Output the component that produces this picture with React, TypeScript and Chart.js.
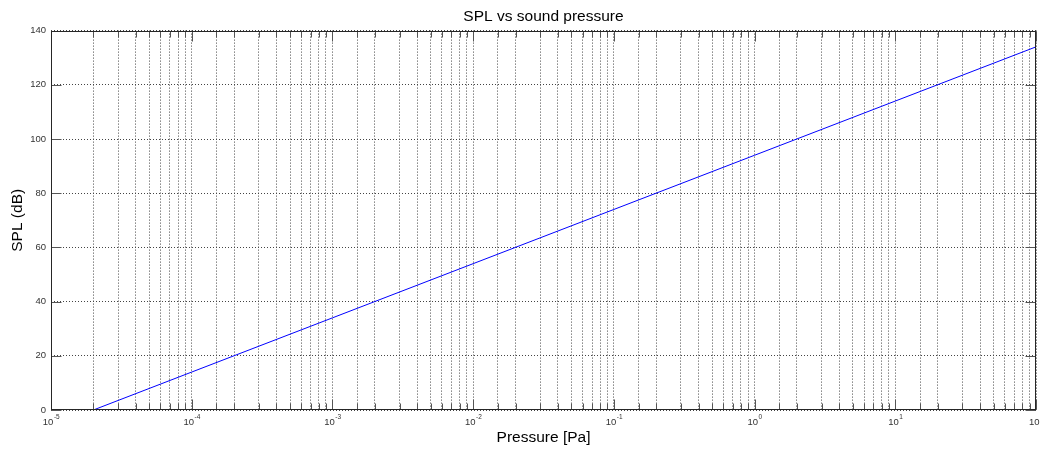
import React, { useEffect, useRef } from 'react';
import { Chart, registerables } from 'chart.js';

Chart.register(...registerables);

// Data
const pressurePa = [2e-5, 1e-4, 1e-3, 1e-2, 1e-1, 1, 10, 100];
const splDb = [0, 14, 34, 54, 74, 94, 114, 134];

const xMin = 1e-5;
const xMax = 100;
const yMin = 0;
const yMax = 140;
const yStep = 20;

const titleText = 'SPL vs sound pressure';
const xTitleText = 'Pressure [Pa]';
const yTitleText = 'SPL (dB)';

const FONT = "'Liberation Sans', Arial, Helvetica, sans-serif";

const isDecade = (v: number) => {
  const l = Math.log10(v);
  return Math.abs(l - Math.round(l)) < 1e-6;
};

const framePlugin = {
  id: 'matlabFrame',
  afterDatasetsDraw(chart: any) {
    const { ctx, chartArea: a, scales } = chart;
    const L = Math.round(a.left) + 0.5;
    const R = Math.round(a.right) - 0.5;
    const T = Math.round(a.top) + 0.5;
    const B = Math.round(a.bottom) - 0.5;
    ctx.save();
    ctx.setLineDash([]);
    ctx.lineWidth = 1;
    ctx.strokeStyle = '#555';
    ctx.beginPath();
    // x tick marks (inward, bottom and top)
    for (const t of scales.x.ticks) {
      const px = Math.round(scales.x.getPixelForValue(t.value)) + 0.5;
      const len = isDecade(t.value) ? 10 : 6;
      ctx.moveTo(px, B);
      ctx.lineTo(px, B - len);
      ctx.moveTo(px, T);
      ctx.lineTo(px, T + len);
    }
    // y tick marks (inward, left and right)
    for (const t of scales.y.ticks) {
      const py = Math.round(scales.y.getPixelForValue(t.value)) + 0.5;
      ctx.moveTo(L, py);
      ctx.lineTo(L + 10, py);
      ctx.moveTo(R, py);
      ctx.lineTo(R - 10, py);
    }
    ctx.stroke();
    ctx.strokeStyle = '#262626';
    ctx.strokeRect(L, T, R - L, B - T);

    // x tick labels: 10 with raised exponent
    ctx.fillStyle = '#333';
    ctx.textBaseline = 'alphabetic';
    ctx.textAlign = 'left';
    const baseFont = `9.5px ${FONT}`;
    const expFont = `6.5px ${FONT}`;
    for (const t of scales.x.ticks) {
      if (!isDecade(t.value)) continue;
      const px = scales.x.getPixelForValue(t.value);
      const exp = String(Math.round(Math.log10(t.value)));
      ctx.font = baseFont;
      const wb = ctx.measureText('10').width;
      ctx.font = expFont;
      const we = ctx.measureText(exp).width;
      const start = px - (wb + we) / 2;
      ctx.font = baseFont;
      ctx.fillText('10', start, B + 15);
      ctx.font = expFont;
      ctx.fillText(exp, start + wb + 0.5, B + 9);
    }
    ctx.restore();
  },
};

export default function App() {
  const ref = useRef<HTMLCanvasElement | null>(null);

  useEffect(() => {
    if (!ref.current) return;
    const chart = new Chart(ref.current, {
      type: 'line',
      data: {
        datasets: [
          {
            data: pressurePa.map((p, i) => ({ x: p, y: splDb[i] })),
            borderColor: '#0000ff',
            borderWidth: 1,
            pointRadius: 0,
            tension: 0,
            fill: false,
          },
        ],
      },
      options: {
        animation: false,
        responsive: false,
        devicePixelRatio: 1,
        layout: { padding: { left: 0, right: 4, top: 0, bottom: 0 } },
        plugins: {
          legend: { display: false },
          tooltip: { enabled: false },
          title: {
            display: true,
            text: titleText,
            fullSize: false,
            color: '#000',
            font: { family: FONT, size: 15.5, weight: 'normal' },
            padding: { top: 7, bottom: 5 },
          },
        },
        scales: {
          x: {
            type: 'logarithmic',
            min: xMin,
            max: xMax,
            afterFit: (s: any) => {
              s.height = 40;
              s.paddingLeft = 0;
              s.paddingRight = 0;
            },
            grid: { color: '#444', lineWidth: 1, drawTicks: false },
            border: { display: false, dash: [1, 2] },
            ticks: {
              display: false,
              autoSkip: false,
              maxRotation: 0,
            },
            title: {
              display: true,
              text: xTitleText,
              color: '#000',
              font: { family: FONT, size: 15.5 },
              padding: { top: 0, bottom: 3 },
            },
          },
          y: {
            min: yMin,
            max: yMax,
            afterFit: (s: any) => {
              s.width = 51;
              s.paddingTop = 0;
              s.paddingBottom = 0;
            },
            grid: { color: '#444', lineWidth: 1, drawTicks: false },
            border: { display: false, dash: [1, 2] },
            ticks: {
              stepSize: yStep,
              padding: 5,
              color: '#333',
              font: { family: FONT, size: 9.5 },
            },
            title: {
              display: true,
              text: yTitleText,
              color: '#000',
              font: { family: FONT, size: 15.5 },
              padding: { top: 8, bottom: 0 },
            },
          },
        },
      },
      plugins: [framePlugin],
    } as any);
    return () => chart.destroy();
  }, []);

  return (
    <div style={{ position: 'absolute', left: 0, top: 0, width: 1040, height: 450, background: '#fff' }}>
      <canvas ref={ref} width={1040} height={450} />
    </div>
  );
}
